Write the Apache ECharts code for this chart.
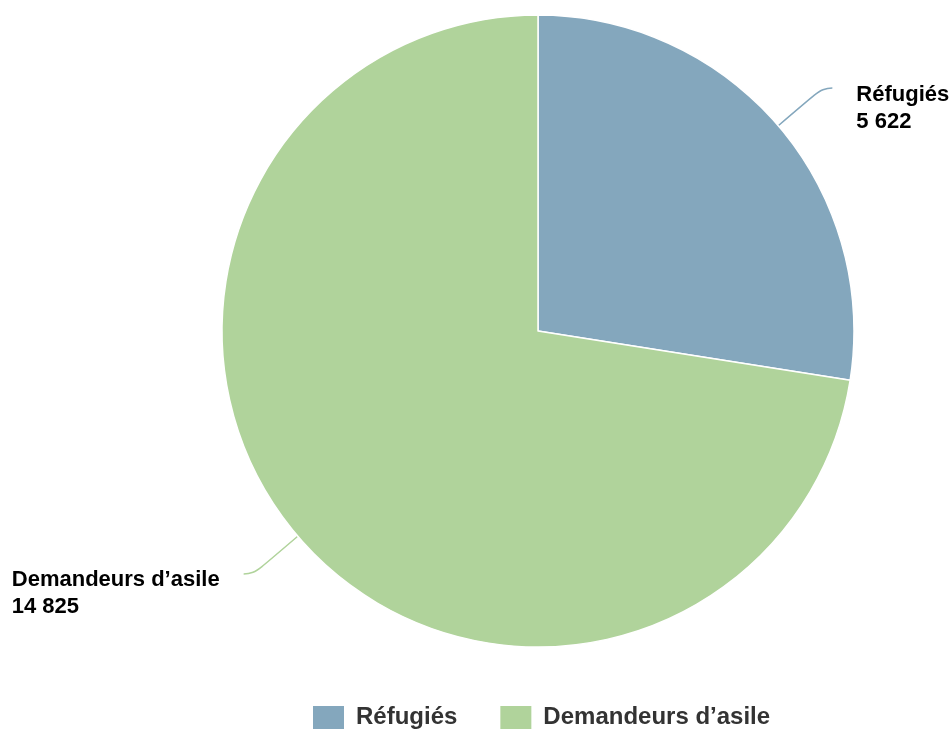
<!DOCTYPE html>
<html><head><meta charset="utf-8">
<script src="https://cdn.jsdelivr.net/npm/echarts@6/dist/echarts.min.js"></script>
<style>html,body{margin:0;padding:0;background:#fff}#c{width:951px;height:733px}</style>
</head><body><div id="c"></div>
<script>
const categories = ["Réfugiés", "Demandeurs d’asile"];
const values = [5622, 14825];
const colors = ["#84a7bd", "#b0d39b"];

function fmt(n){ return String(n).replace(/\B(?=(\d{3})+(?!\d))/g, " "); }

const FONT = 'Liberation Sans, Arial, Helvetica, sans-serif';
const chart = echarts.init(document.getElementById('c'));
chart.setOption({
  animation: false,
  legend: {
    top: 704,
    left: 311,
    padding: 0,
    itemWidth: 33,
    itemHeight: 25,
    itemGap: 41,
    icon: 'rect',
    textStyle: { fontFamily: FONT, fontSize: 24, fontWeight: 'bold', color: '#333', padding: [0, 0, 0, 6] },
    data: categories
  },
  series: [{
    type: 'pie',
    center: [538, 331],
    radius: 316,
    startAngle: 90,
    clockwise: true,
    itemStyle: { borderColor: '#fff', borderWidth: 1.5 },
    label: {
      show: true,
      overflow: 'none',
      formatter: p => '{a|' + p.name + '}\n{a|' + fmt(p.value) + '}',
      rich: {
        a: { fontFamily: FONT, fontSize: 22, fontWeight: 'bold', color: '#000', lineHeight: 27, align: 'left' }
      },
      padding: [40, 0, 0, 0],
      distanceToLabelLine: 24
    },
    labelLine: {
      show: true,
      length: 58,
      length2: 10,
      smooth: 0.5,
      lineStyle: { width: 1.5 }
    },
    data: categories.map((c, i) => ({ name: c, value: values[i], itemStyle: { color: colors[i] } }))
  }]
});
</script></body></html>
